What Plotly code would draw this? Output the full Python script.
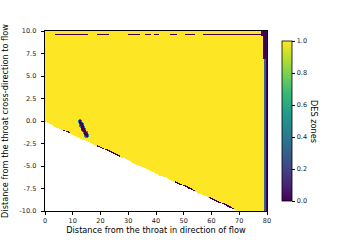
import numpy as np
import plotly.graph_objects as go

# ---- data ----
x_grid = np.arange(0, 80.0001, 0.25)          # distance in flow direction
y_grid = np.arange(-10, 10.0001, 0.1)         # cross-direction distance

lower_edge_x = [0.0, 69.2, 80.0]              # lower wall of the domain
lower_edge_y = [-0.1, -10.0, -10.0]

top_line_y = 9.62                             # thin DES=0 line near top wall
top_line_segments = [(3.6, 15.5), (19, 23), (30, 34), (36, 38), (39.5, 41),
                     (45, 47.6), (50.5, 54), (57, 77.6)]

blob_x = [12.6, 13.2, 14.0, 14.6, 15.0]       # isolated DES=0 streak
blob_y = [0.0, -0.5, -1.0, -1.35, -1.6]

edge_segments = [(6.5, 9), (19, 27), (47, 54), (59, 68)]  # dark bits on lower wall

right_strip_x = [78.8, 79.3]                  # outlet strip: teal edge, dark core
right_strip_vals = [0.3, 0.0]
top_right_block_a = dict(x0=77.6, y0=9.4, y1=10.0)
top_right_block_b = dict(x0=78.4, y0=6.8, y1=9.4)

colorbar_ticks = [0.0, 0.2, 0.4, 0.6, 0.8, 1.0]
x_ticks = [0, 10, 20, 30, 40, 50, 60, 70, 80]
y_ticks = [-10, -7.5, -5, -2.5, 0, 2.5, 5, 7.5, 10]

# ---- build the zone field ----
X, Y = np.meshgrid(x_grid, y_grid)
Z = np.ones_like(X)
low = np.interp(x_grid, lower_edge_x, lower_edge_y)
LOW = np.broadcast_to(low, X.shape)

for a, b in top_line_segments:
    Z[(X >= a) & (X <= b) & (np.abs(Y - top_line_y) < 0.05)] = 0.0

for a, b in edge_segments:
    m = (X >= a) & (X <= b) & (Y >= LOW) & (Y < LOW + 0.15)
    Z[m] = 0.0

# streak: distance to polyline in pixel-like units
sx, sy = 2.77, 9.0
PX, PY = X * sx, Y * sy
dmin = np.full(X.shape, np.inf)
for i in range(len(blob_x) - 1):
    ax, ay = blob_x[i] * sx, blob_y[i] * sy
    bx, by = blob_x[i + 1] * sx, blob_y[i + 1] * sy
    vx, vy = bx - ax, by - ay
    t = np.clip(((PX - ax) * vx + (PY - ay) * vy) / (vx * vx + vy * vy), 0, 1)
    d = np.hypot(PX - (ax + t * vx), PY - (ay + t * vy))
    dmin = np.minimum(dmin, d)
Z[dmin < 2.3] = 0.45
Z[dmin < 1.5] = 0.0

Z[(X >= right_strip_x[0]) & (X < right_strip_x[1])] = right_strip_vals[0]
Z[X >= right_strip_x[1]] = right_strip_vals[1]
for blk in (top_right_block_a, top_right_block_b):
    Z[(X >= blk["x0"]) & (Y >= blk["y0"]) & (Y <= blk["y1"])] = 0.0
Z[Y < LOW] = np.nan

font = "DejaVu Sans"
fig = go.Figure(go.Heatmap(
    x=x_grid, y=y_grid, z=Z, zmin=0, zmax=1, colorscale="Viridis",
    zsmooth=False, hoverinfo="skip",
    colorbar=dict(
        x=(282 - 45) / 222, xanchor="left", xpad=0, y=0.5, yanchor="middle",
        len=1, lenmode="fraction", thickness=10, thicknessmode="pixels",
        outlinewidth=0.8, outlinecolor="black",
        tickvals=colorbar_ticks, ticktext=[f"{v:.1f}" for v in colorbar_ticks],
        ticks="outside", ticklen=3.5, tickwidth=0.8, tickcolor="black",
        tickfont=dict(family=font, size=6.5, color="#222"),
    ),
))

axis_common = dict(showline=True, linecolor="black", linewidth=0.8, mirror=True,
                   ticks="outside", ticklen=3.5, tickwidth=0.8, tickcolor="black",
                   showgrid=False, zeroline=False,
                   tickfont=dict(family=font, size=6.5, color="#222"))

fig.update_layout(
    width=359, height=240,
    margin=dict(l=45, r=359 - 267, t=31, b=240 - 211, autoexpand=False),
    paper_bgcolor="white", plot_bgcolor="white",
    xaxis=dict(range=[0, 80], tickvals=x_ticks, **axis_common,
               title=dict(text="Distance from the throat in direction of flow",
                          font=dict(family=font, size=8.2, color="black"), standoff=3)),
    yaxis=dict(range=[-10, 10], tickvals=y_ticks, ticklabelstandoff=3,
               ticktext=[f"{v:.1f}" for v in y_ticks], **axis_common,
               title=dict(text="Distance from the throat cross-direction to flow",
                          font=dict(family=font, size=8.2, color="black"), standoff=11)),
    annotations=[dict(text="DES zones", x=(321 - 45) / 222, y=0.5, xref="paper", yref="paper",
                      showarrow=False, textangle=90,
                      font=dict(family=font, size=8.2, color="black"))],
)

# remove the browser's default 8px body margin so the figure sits at the page origin
fig.write_html("out.html", config={"displayModeBar": False},
               post_script="document.body.style.margin='0px';")
